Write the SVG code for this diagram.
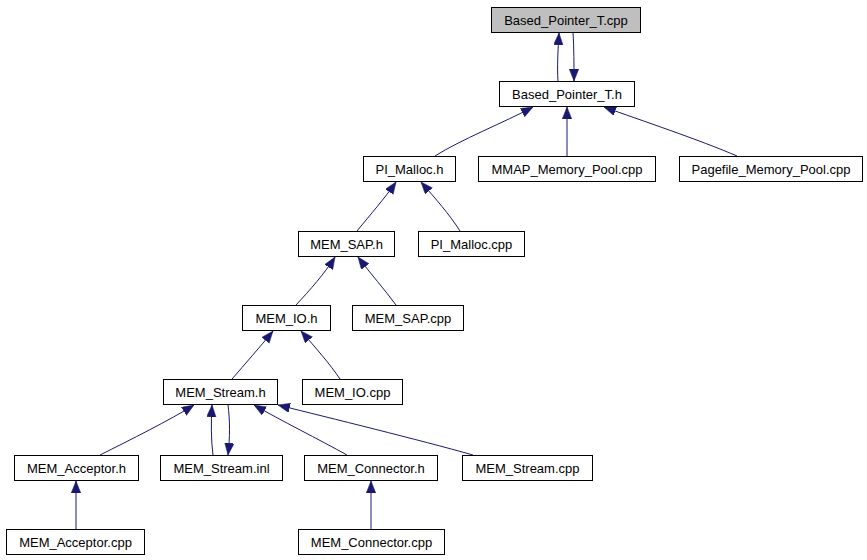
<svg xmlns="http://www.w3.org/2000/svg" width="867" height="560" viewBox="0 0 867 560">
<style>
  .node rect { fill: #ffffff; stroke: #000000; stroke-width: 1; }
  .node text { font-family: "Liberation Sans", Arial, sans-serif; font-size: 13px; fill: #000000; text-anchor: middle; }
  #n_bpt_cpp rect { fill: #bfbfbf; }
  .edges path { fill: none; stroke: #191970; stroke-width: 1; marker-end: url(#arrow); }
</style>
<defs>
  <marker id="arrow" markerUnits="userSpaceOnUse" markerWidth="12" markerHeight="10" refX="12" refY="4.75" orient="auto">
    <path d="M0,0 L12,4.75 L0,9.5 z" fill="#191970" stroke="#191970" stroke-width="0.5"/>
  </marker>
</defs>
<rect x="0" y="0" width="867" height="560" fill="#ffffff"/>

<g class="edges" id="edges">
  <path d="M558,81 C557,67 558,50 559,33"/>
  <path d="M573,32 C574,48 574,65 574,81"/>
  <path d="M435,156 C460,140 505,122 533,107"/>
  <path d="M567,156 L567,107"/>
  <path d="M737,156 C700,140 640,120 604,107"/>
  <path d="M357,231 C370,215 385,198 396,182"/>
  <path d="M460,231 C450,215 435,198 421,182"/>
  <path d="M296,305 C310,290 325,273 335,257"/>
  <path d="M396,305 C385,290 370,273 358,257"/>
  <path d="M232,379 C245,364 260,347 273,331"/>
  <path d="M340,379 C330,364 315,347 301,331"/>
  <path d="M100,455 C130,440 170,420 194,405"/>
  <path d="M213,455 C211,440 211,423 212,405"/>
  <path d="M228,405 C230,420 230,438 228,455"/>
  <path d="M347,455 C320,440 280,420 254,405"/>
  <path d="M473,455 C420,440 330,418 278,405"/>
  <path d="M76,529 L76,481"/>
  <path d="M371,529 L371,481"/>
</g>

<g class="node" id="n_bpt_cpp"><rect x="491.5" y="7.5" width="149" height="25"/><text x="566" y="24.5">Based_Pointer_T.cpp</text></g>
<g class="node" id="n_bpt_h"><rect x="499.5" y="81.5" width="135" height="25"/><text x="567" y="98.5">Based_Pointer_T.h</text></g>
<g class="node" id="n_pi_malloc_h"><rect x="363.5" y="156.5" width="92" height="25"/><text x="409.5" y="173.5">PI_Malloc.h</text></g>
<g class="node" id="n_mmap"><rect x="478.5" y="156.5" width="177" height="25"/><text x="567" y="173.5">MMAP_Memory_Pool.cpp</text></g>
<g class="node" id="n_pagefile"><rect x="679.5" y="156.5" width="183" height="25"/><text x="771" y="173.5">Pagefile_Memory_Pool.cpp</text></g>
<g class="node" id="n_mem_sap_h"><rect x="298.5" y="231.5" width="96" height="25"/><text x="346.5" y="248.5">MEM_SAP.h</text></g>
<g class="node" id="n_pi_malloc_cpp"><rect x="418.5" y="231.5" width="106" height="25"/><text x="471.5" y="248.5">PI_Malloc.cpp</text></g>
<g class="node" id="n_mem_io_h"><rect x="242.5" y="305.5" width="88" height="25"/><text x="286.5" y="322.5">MEM_IO.h</text></g>
<g class="node" id="n_mem_sap_cpp"><rect x="352.5" y="305.5" width="111" height="25"/><text x="408" y="322.5">MEM_SAP.cpp</text></g>
<g class="node" id="n_mem_stream_h"><rect x="163.5" y="379.5" width="114" height="25"/><text x="220.5" y="396.5">MEM_Stream.h</text></g>
<g class="node" id="n_mem_io_cpp"><rect x="302.5" y="379.5" width="100" height="25"/><text x="352.5" y="396.5">MEM_IO.cpp</text></g>
<g class="node" id="n_mem_acceptor_h"><rect x="14.5" y="455.5" width="124" height="25"/><text x="76.5" y="472.5">MEM_Acceptor.h</text></g>
<g class="node" id="n_mem_stream_inl"><rect x="160.5" y="455.5" width="122" height="25"/><text x="221.5" y="472.5">MEM_Stream.inl</text></g>
<g class="node" id="n_mem_connector_h"><rect x="304.5" y="455.5" width="133" height="25"/><text x="371" y="472.5">MEM_Connector.h</text></g>
<g class="node" id="n_mem_stream_cpp"><rect x="462.5" y="455.5" width="130" height="25"/><text x="527.5" y="472.5">MEM_Stream.cpp</text></g>
<g class="node" id="n_mem_acceptor_cpp"><rect x="6.5" y="529.5" width="138" height="25"/><text x="75.5" y="546.5">MEM_Acceptor.cpp</text></g>
<g class="node" id="n_mem_connector_cpp"><rect x="298.5" y="529.5" width="146" height="25"/><text x="371.5" y="546.5">MEM_Connector.cpp</text></g>
</svg>
